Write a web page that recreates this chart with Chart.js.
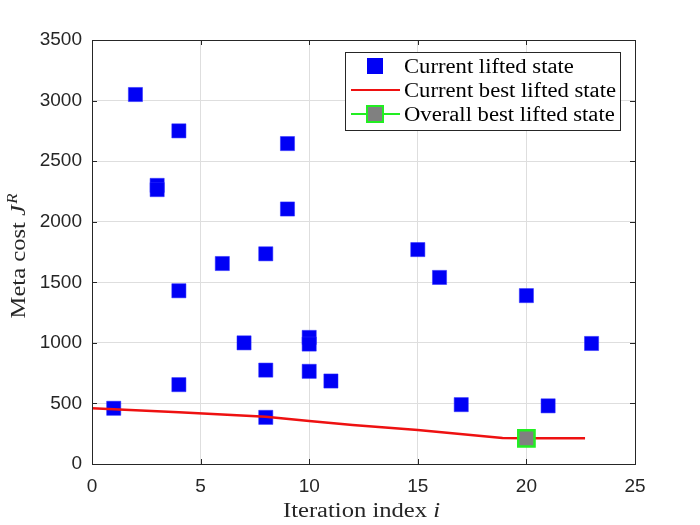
<!DOCTYPE html>
<html>
<head>
<meta charset="utf-8">
<script src="https://cdn.jsdelivr.net/npm/chart.js@4.4.0/dist/chart.umd.min.js"></script>
<style>
html,body{margin:0;padding:0;background:#fff;}
#wrap{width:700px;height:525px;position:relative;}
</style>
</head>
<body>
<div id="wrap"><canvas id="c" width="700" height="525"></canvas></div>
<script>
// ---- data ----
const currentX = [1, 2, 3, 3, 4, 4, 4, 6, 7, 8, 8, 8, 9, 9, 10, 10, 10, 11, 15, 16, 17, 20, 21, 23];
const currentY = [460, 3050, 2300, 2265, 2750, 1430, 655, 1655, 1000, 1735, 775, 385, 2645, 2105, 1045, 990, 765, 685, 1770, 1540, 490, 1390, 480, 995];
const bestLineX = [0, 4, 8, 10, 12, 15, 18.9, 20, 22.7];
const bestLineY = [460, 427, 391, 355, 322, 280, 215, 212, 212];
const overallX = [20];
const overallY = [212];
const xTicks = [0, 5, 10, 15, 20, 25];
const yTicks = [0, 500, 1000, 1500, 2000, 2500, 3000, 3500];
const labels = ['Current lifted state', 'Current best lifted state', 'Overall best lifted state'];

const toPts = (xs, ys) => xs.map((x, i) => ({x: x, y: ys[i]}));

const TICK_FONT = {family: "'Liberation Sans', Arial, sans-serif", size: 19};
const SERIF = "'Liberation Serif', 'DejaVu Serif', serif";
const AXIS_COLOR = '#262626';
const STRETCH = 1.2; // serif text is drawn slightly wider (LaTeX-like)

function serifText(ctx, parts, x, y, align) {
  let total = 0;
  parts.forEach(p => { ctx.font = p.font; p.w = ctx.measureText(p.t).width + (p.gap || 0); total += p.w; });
  total *= STRETCH;
  let sx = align === 'center' ? x - total / 2 : x;
  ctx.save();
  ctx.translate(sx, y);
  ctx.scale(STRETCH, 1);
  let cx = 0;
  parts.forEach(p => { ctx.font = p.font; ctx.fillText(p.t, cx + (p.gap || 0), p.dy || 0); cx += p.w; });
  ctx.restore();
}

const decorPlugin = {
  id: 'decor',
  afterDatasetsDraw(chart) {
    const {ctx, chartArea: a, scales} = chart;
    ctx.save();
    ctx.strokeStyle = AXIS_COLOR;
    ctx.lineWidth = 1;
    ctx.strokeRect(a.left + 0.5, a.top + 0.5, a.right - a.left, a.bottom - a.top);
    const tl = 5;
    ctx.beginPath();
    xTicks.forEach(v => {
      const px = Math.round(scales.x.getPixelForValue(v)) + 0.5;
      ctx.moveTo(px, a.bottom); ctx.lineTo(px, a.bottom - tl);
      ctx.moveTo(px, a.top); ctx.lineTo(px, a.top + tl);
    });
    yTicks.forEach(v => {
      const py = Math.round(scales.y.getPixelForValue(v)) + 0.5;
      ctx.moveTo(a.left, py); ctx.lineTo(a.left + tl, py);
      ctx.moveTo(a.right, py); ctx.lineTo(a.right - tl, py);
    });
    ctx.stroke();

    ctx.fillStyle = '#262626';
    ctx.textBaseline = 'alphabetic';
    const up = '20.5px ' + SERIF, it = 'italic 20.5px ' + SERIF, sup = 'italic 14px ' + SERIF;
    serifText(ctx, [{t: 'Iteration index ', font: up}, {t: 'i', font: it}], (a.left + a.right) / 2 - 2, 517, 'center');
    ctx.save();
    ctx.translate(25, (a.top + a.bottom) / 2 + 4);
    ctx.rotate(-Math.PI / 2);
    serifText(ctx, [{t: 'Meta cost ', font: up}, {t: 'J', font: it}, {t: 'R', font: sup, dy: -8, gap: 1}], 0, 0, 'center');
    ctx.restore();

    // legend
    const bx = 345.5, by = 52.5, bw = 275, bh = 78;
    ctx.fillStyle = '#fff';
    ctx.fillRect(bx, by, bw, bh);
    ctx.strokeStyle = '#262626';
    ctx.lineWidth = 1;
    ctx.strokeRect(bx, by, bw, bh);
    const rows = [66, 90, 114];
    const sx = 375;
    const ds = chart.data.datasets;
    ctx.fillStyle = ds[0].backgroundColor;
    ctx.fillRect(sx - 8, rows[0] - 8, 16, 16);
    ctx.strokeStyle = ds[1].borderColor;
    ctx.lineWidth = 2;
    ctx.beginPath(); ctx.moveTo(351, rows[1]); ctx.lineTo(400, rows[1]); ctx.stroke();
    ctx.strokeStyle = ds[2].pointBorderColor;
    ctx.beginPath(); ctx.moveTo(351, rows[2]); ctx.lineTo(400, rows[2]); ctx.stroke();
    ctx.fillStyle = ds[2].pointBackgroundColor;
    ctx.fillRect(sx - 8, rows[2] - 8, 16, 16);
    ctx.lineWidth = 2;
    ctx.strokeRect(sx - 8, rows[2] - 8, 16, 16);
    ctx.fillStyle = '#000';
    ctx.textBaseline = 'alphabetic';
    ctx.font = '20px ' + SERIF;
    const lw = ctx.measureText(labels[1]).width;
    const k = 212 / lw;
    labels.forEach((l, i) => {
      ctx.save();
      ctx.translate(404, rows[i] + 7);
      ctx.scale(k, 1);
      ctx.font = '20px ' + SERIF;
      ctx.fillText(l, 0, 0);
      ctx.restore();
    });
    ctx.restore();
  }
};

new Chart(document.getElementById('c'), {
  type: 'scatter',
  data: {
    datasets: [
      {
        label: labels[0],
        data: toPts(currentX, currentY),
        pointStyle: 'rect',
        pointRadius: 10,
        pointHoverRadius: 10,
        backgroundColor: '#0000f5',
        borderColor: '#2a2aff',
        borderWidth: 0.5,
        showLine: false,
        order: 3
      },
      {
        label: labels[1],
        data: toPts(bestLineX, bestLineY),
        showLine: true,
        borderColor: '#ee1111',
        borderWidth: 2.5,
        pointRadius: 0,
        pointHoverRadius: 0,
        fill: false,
        tension: 0,
        order: 2
      },
      {
        label: labels[2],
        data: toPts(overallX, overallY),
        pointStyle: 'rect',
        pointRadius: 11.5,
        pointHoverRadius: 11.5,
        pointBackgroundColor: '#808080',
        pointBorderColor: '#22ee22',
        pointBorderWidth: 2.5,
        backgroundColor: '#808080',
        borderColor: '#22ee22',
        showLine: false,
        order: 1
      }
    ]
  },
  options: {
    responsive: false,
    animation: false,
    layout: {padding: {top: 40, right: 65, bottom: 0, left: 0}},
    plugins: {legend: {display: false}, tooltip: {enabled: false}},
    scales: {
      x: {
        type: 'linear', min: 0, max: 25,
        afterFit: s => { s.height = 61; },
        afterBuildTicks: s => { s.ticks = xTicks.map(v => ({value: v})); },
        grid: {color: '#dedede', drawTicks: false, lineWidth: 1},
        border: {display: true, color: AXIS_COLOR},
        ticks: {color: '#262626', font: TICK_FONT, padding: 11, maxRotation: 0, callback: v => String(v)}
      },
      y: {
        type: 'linear', min: 0, max: 3500,
        afterFit: s => { s.width = 92; },
        afterBuildTicks: s => { s.ticks = yTicks.map(v => ({value: v})); },
        grid: {color: '#dedede', drawTicks: false, lineWidth: 1},
        border: {display: true, color: AXIS_COLOR},
        ticks: {color: '#262626', font: TICK_FONT, padding: 10, callback: v => String(v)}
      }
    }
  },
  plugins: [decorPlugin]
});
</script>
</body>
</html>
